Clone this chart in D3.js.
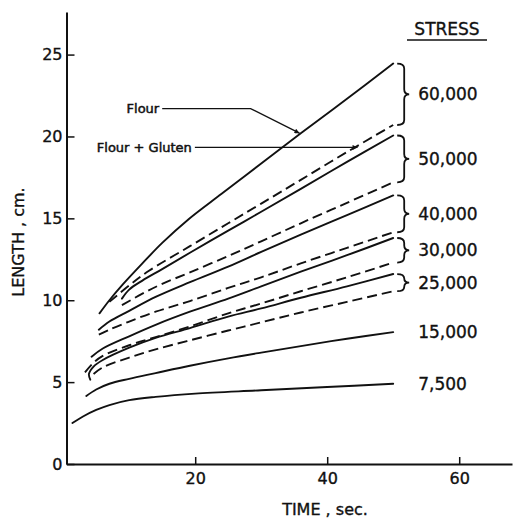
<!DOCTYPE html>
<html>
<head>
<meta charset="utf-8">
<script src="https://cdn.jsdelivr.net/npm/d3@7"></script>
<style>
  body { margin: 0; background: #fff; }
  text { font-family: "DejaVu Sans", sans-serif; fill: #111; stroke: #111; stroke-width: 0.35px; }
</style>
</head>
<body>
<div id="main"></div>
<script>
const width = 515, height = 519;

// time (sec) , length (cm)
const flour60k  = [[5.5,9.2],[7,10.0],[9,10.95],[12,12.25],[15,13.5],[19,14.95],[24,16.5],[30,18.35],[36,20.2],[43,22.3],[50,24.45]];
const gluten60k = [[7,9.9],[10,10.9],[13,11.8],[19.2,13.3],[25,14.7],[30,15.9],[36,17.35],[43,19.05],[50,20.7]];
const flour50k  = [[8.9,10.1],[10,10.65],[12,11.2],[15,11.9],[19.2,12.9],[25,14.25],[30,15.4],[36,16.8],[43,18.45],[50,20.06]];
const gluten50k = [[8.9,9.7],[12,10.4],[15,11.0],[19.2,11.7],[25,12.7],[30,13.6],[36,14.7],[43,15.95],[50,17.2]];
const flour40k  = [[5.4,8.2],[7,8.7],[10,9.35],[14,10.2],[19.2,11.1],[25,12.05],[30,12.95],[36,14.0],[43,15.2],[50,16.4]];
const gluten40k = [[5.4,7.9],[7,8.2],[10,8.7],[14,9.3],[19.2,9.95],[25,10.75],[30,11.4],[36,12.25],[43,13.2],[50,14.15]];
const flour30k  = [[4.3,6.55],[6,7.05],[10,7.8],[14,8.5],[19.2,9.3],[25,10.1],[30,10.85],[36,11.75],[43,12.75],[50,13.8]];
const gluten30k = [[3.3,5.6],[4.5,6.15],[6,6.6],[10,7.25],[14,7.75],[19.2,8.4],[25,9.2],[30,9.8],[36,10.55],[43,11.4],[50,12.3]];
const flour25k  = [[4.1,5.15],[3.9,5.5],[4.6,5.95],[6,6.35],[10,7.1],[14,7.7],[19.2,8.3],[25,9.0],[30,9.5],[36,10.15],[43,10.85],[50,11.6]];
const gluten25k = [[4.6,5.5],[6,5.9],[10,6.5],[14,7.0],[19.2,7.55],[25,8.15],[30,8.65],[36,9.25],[43,9.9],[50,10.55]];
const flour15k  = [[3.5,4.15],[5,4.55],[7,4.9],[10,5.2],[14,5.55],[19.2,6.0],[25,6.45],[30,6.8],[36,7.2],[43,7.65],[50,8.05]];
const flour7500 = [[1.4,2.5],[3,2.9],[5,3.3],[7,3.6],[10,3.9],[14,4.1],[20,4.3],[30,4.5],[40,4.7],[50,4.9]];

const stressLabels = ["60,000", "50,000", "40,000", "30,000", "25,000", "15,000", "7,500"];
const xTicks = [20, 40, 60];
const yTicks = [0, 5, 10, 15, 20, 25];

// groups: solid (flour) + dashed (flour + gluten), bracketed on the right
const groups = [
  {label: stressLabels[0], flour: flour60k, gluten: gluten60k},
  {label: stressLabels[1], flour: flour50k, gluten: gluten50k},
  {label: stressLabels[2], flour: flour40k, gluten: gluten40k},
  {label: stressLabels[3], flour: flour30k, gluten: gluten30k},
  {label: stressLabels[4], flour: flour25k, gluten: gluten25k},
  {label: stressLabels[5], flour: flour15k, gluten: null},
  {label: stressLabels[6], flour: flour7500, gluten: null}
];

const svg = d3.select("#main").append("svg")
  .attr("width", width).attr("height", height)
  .style("background", "#fff");

const x = d3.scaleLinear().domain([0.5, 68]).range([66.5, 512]);
const y = d3.scaleLinear().domain([0, 27.6]).range([464, 12]);

svg.append("defs").append("marker")
  .attr("id", "arrow")
  .attr("viewBox", "0 -5 10 10")
  .attr("refX", 10).attr("refY", 0)
  .attr("markerWidth", 8).attr("markerHeight", 5)
  .attr("markerUnits", "userSpaceOnUse")
  .attr("orient", "auto")
  .append("path")
  .attr("d", "M0,-5L10,0L0,5Z")
  .attr("fill", "#111");

// axes
const xAxis = svg.append("g")
  .attr("transform", `translate(0,${y(0)})`)
  .call(d3.axisBottom(x).tickValues(xTicks).tickSizeInner(-7).tickSizeOuter(0).tickPadding(9));
const yAxis = svg.append("g")
  .attr("transform", `translate(${x(0.5)},0)`)
  .call(d3.axisLeft(y).tickValues(yTicks).tickSizeInner(-8).tickSizeOuter(0).tickPadding(4));

[xAxis, yAxis].forEach(g => {
  g.select(".domain").attr("stroke", "#111").attr("stroke-width", 2);
  g.selectAll(".tick line").attr("stroke", "#111").attr("stroke-width", 1.5);
  g.selectAll(".tick text")
    .attr("font-family", "DejaVu Sans, sans-serif")
    .attr("font-size", 16)
    .attr("fill", "#111");
});

svg.append("text")
  .attr("x", 325).attr("y", 515)
  .attr("text-anchor", "middle")
  .attr("font-size", 16)
  .text("TIME , sec.");

svg.append("text")
  .attr("transform", `translate(24,242) rotate(-90)`)
  .attr("text-anchor", "middle")
  .attr("font-size", 16)
  .text("LENGTH , cm.");

// curves
const line = d3.line()
  .x(d => x(d[0]))
  .y(d => y(d[1]))
  .curve(d3.curveCatmullRom.alpha(0.5));

const curves = svg.append("g")
  .attr("fill", "none")
  .attr("stroke", "#111")
  .attr("stroke-width", 1.9)
  .attr("stroke-linecap", "round");

groups.forEach(g => {
  curves.append("path").attr("d", line(g.flour));
  if (g.gluten) {
    curves.append("path").attr("d", line(g.gluten))
      .attr("stroke-dasharray", "10,5")
      .attr("stroke-linecap", "butt");
  }
});

// braces and stress labels
function brace(y0, y1) {
  const xa = x(50) + 4, xb = x(50) + 11, xc = x(50) + 16;
  const ym = (y0 + y1) / 2;
  const r = Math.min(5, (y1 - y0) / 4);
  return `M${xa},${y0} Q${xb},${y0} ${xb},${y0 + r} L${xb},${ym - r} Q${xb},${ym} ${xc},${ym}` +
    ` Q${xb},${ym} ${xb},${ym + r} L${xb},${y1 - r} Q${xb},${y1} ${xa},${y1}`;
}

const last = arr => arr[arr.length - 1];

groups.forEach(g => {
  const top = y(last(g.flour)[1]);
  let mid = top;
  if (g.gluten) {
    const bottom = y(last(g.gluten)[1]);
    mid = (top + bottom) / 2;
    svg.append("path")
      .attr("d", brace(top, bottom))
      .attr("fill", "none")
      .attr("stroke", "#111")
      .attr("stroke-width", 1.8);
  }
  svg.append("text")
    .attr("x", x(50) + 25)
    .attr("y", mid)
    .attr("dy", "0.36em")
    .attr("font-size", 17)
    .text(g.label);
});

svg.append("text")
  .attr("x", 447).attr("y", 35)
  .attr("text-anchor", "middle")
  .attr("font-size", 17)
  .text("STRESS");
svg.append("line")
  .attr("x1", 407).attr("x2", 487)
  .attr("y1", 40).attr("y2", 40)
  .attr("stroke", "#111").attr("stroke-width", 1.5);

// annotations, in data units
const flourLeader = [[15, 21.7], [28.4, 21.7], [35.8, 20.2]];
const glutenLeader = [[19.95, 19.33], [44.6, 19.33]];

const leader = d3.line().x(d => x(d[0])).y(d => y(d[1]));

svg.append("path")
  .attr("d", leader(flourLeader))
  .attr("fill", "none").attr("stroke", "#111").attr("stroke-width", 1.3)
  .attr("marker-end", "url(#arrow)");
svg.append("path")
  .attr("d", leader(glutenLeader))
  .attr("fill", "none").attr("stroke", "#111").attr("stroke-width", 1.3)
  .attr("marker-end", "url(#arrow)");

svg.append("text")
  .attr("x", x(flourLeader[0][0]) - 3).attr("y", y(flourLeader[0][1]))
  .attr("dy", "0.35em")
  .attr("text-anchor", "end")
  .attr("font-size", 13)
  .style("stroke-width", "0.5px")
  .text("Flour");
svg.append("text")
  .attr("x", x(glutenLeader[0][0]) - 3).attr("y", y(glutenLeader[0][1]))
  .attr("dy", "0.35em")
  .attr("text-anchor", "end")
  .attr("font-size", 13)
  .style("stroke-width", "0.5px")
  .text("Flour + Gluten");
</script>
</body>
</html>
